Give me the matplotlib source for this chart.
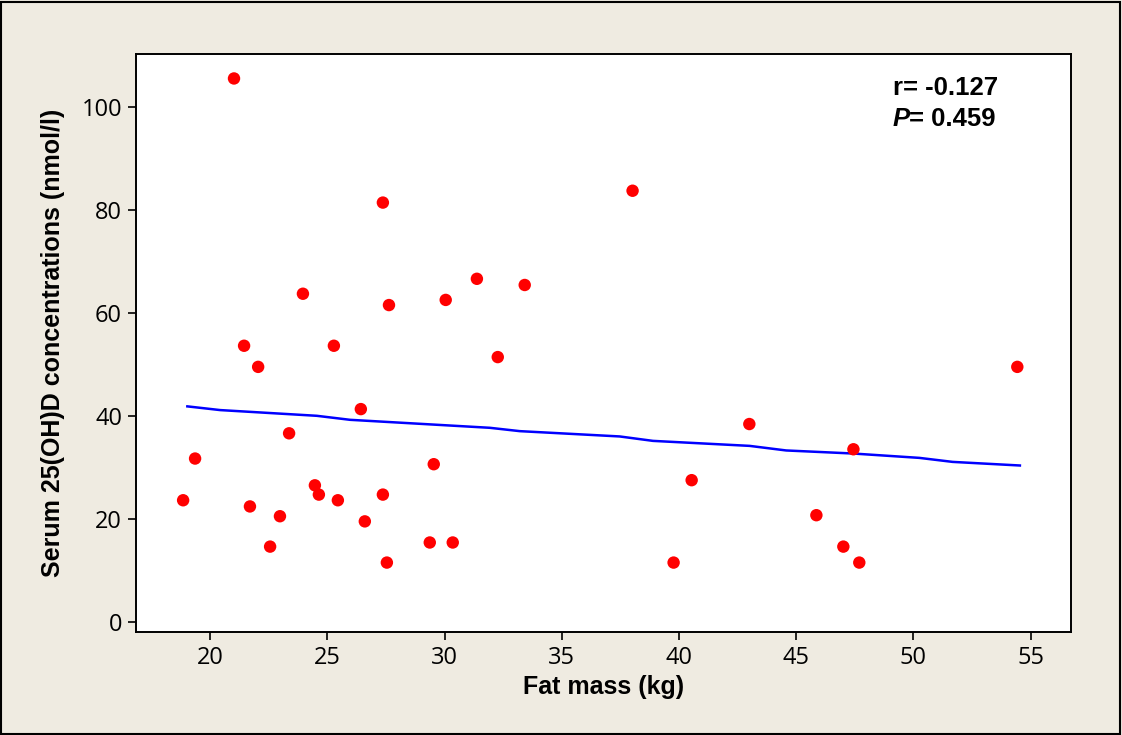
import matplotlib
matplotlib.use("Agg")
import matplotlib.pyplot as plt
from matplotlib.patches import Rectangle
from matplotlib.transforms import offset_copy

# fat mass (kg) and serum 25(OH)D (nmol/l)
fat_mass = [18.85, 19.36, 21.02, 21.45, 21.7, 22.05, 22.56, 22.98, 23.37, 23.96,
            24.47, 24.64, 25.28, 25.45, 26.43, 26.6, 27.37, 27.37, 27.54, 27.63,
            29.37, 29.54, 30.05, 30.35, 31.38, 32.27, 33.42, 38.02, 39.77, 40.54,
            43.0, 45.86, 47.01, 47.44, 47.69, 54.43]
vitd = [23.7, 31.8, 105.6, 53.7, 22.5, 49.6, 14.7, 20.6, 36.7, 63.8,
        26.6, 24.8, 53.7, 23.7, 41.4, 19.6, 81.5, 24.8, 11.6, 61.6,
        15.5, 30.7, 62.6, 15.5, 66.7, 51.5, 65.5, 83.8, 11.6, 27.6,
        38.5, 20.8, 14.7, 33.6, 11.6, 49.6]

# smoothed fit line
fit_x = [19.03, 20.43, 24.55, 25.97, 31.93, 33.21, 37.47, 38.89, 43.01, 44.57,
         47.41, 50.25, 51.67, 54.54]
fit_y = [41.93, 41.21, 40.10, 39.32, 37.77, 37.12, 36.09, 35.23, 34.26, 33.37,
         32.78, 31.93, 31.15, 30.45]

xticks = [20, 25, 30, 35, 40, 45, 50, 55]
yticks = [0, 20, 40, 60, 80, 100]

bg = "#efebe1"
fig = plt.figure(figsize=(11.22, 7.35), dpi=100, facecolor=bg)
ax = fig.add_axes([136/1122, 1 - 632/735, (1071-136)/1122, (632-54)/735])
ax.set_facecolor("white")

ax.plot(fit_x, fit_y, color="#0000ff", lw=1.8, zorder=2)
ax.scatter(fat_mass, vitd, s=80, color="#ff0000", edgecolors="none", zorder=3)

ax.set_xlim(16.84, 56.72)
ax.set_ylim(-1.88, 110.35)
ax.set_xticks(xticks)
ax.set_yticks(yticks)
for s in ax.spines.values():
    s.set_linewidth(1.4)
ax.tick_params(direction="out", length=6, width=1.2, labelsize=17, pad=4)
for lab in ax.get_xticklabels() + ax.get_yticklabels():
    lab.set_family("Open Sans")

ax.set_xlabel("Fat mass (kg)", fontsize=18, fontweight="bold",
              family="Liberation Sans", labelpad=4)
ax.set_ylabel("Serum 25(OH)D concentrations (nmol/l)", fontsize=18,
              fontweight="bold", family="Liberation Sans", labelpad=12)

ax.text(0.8096, 0.941, "r= -0.127", transform=ax.transAxes, fontsize=18.5,
        fontweight="bold", family="Liberation Sans", va="center")
ptxt = ax.text(0.8096, 0.8875, "P", transform=ax.transAxes, fontsize=18.5,
               fontweight="bold", fontstyle="italic", family="Liberation Sans",
               va="center")
fig.canvas.draw()
pw = ptxt.get_window_extent().width * 72 / fig.dpi
ax.text(0.8096, 0.8875, "= 0.459", fontsize=18.5, fontweight="bold",
        family="Liberation Sans", va="center",
        transform=offset_copy(ax.transAxes, fig=fig, x=pw - 1, y=0, units="points"))

fig.patches.append(Rectangle((0.001, 0.002), 0.997, 0.995, transform=fig.transFigure,
                             fill=False, edgecolor="black", lw=1.5))

fig.savefig("out.png", dpi=100, facecolor=bg)
